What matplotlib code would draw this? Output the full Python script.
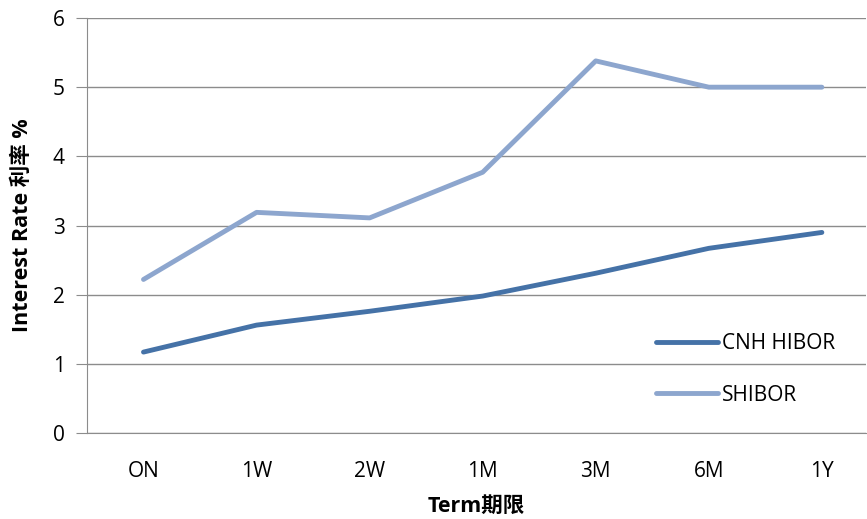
import matplotlib
matplotlib.use('Agg')
import matplotlib.pyplot as plt
import numpy as np

terms = ['ON', '1W', '2W', '1M', '3M', '6M', '1Y']
cnh_hibor = [1.17, 1.56, 1.76, 1.98, 2.31, 2.67, 2.90]
shibor = [2.22, 3.19, 3.11, 3.77, 5.38, 5.0, 5.0]

plt.rcParams['font.family'] = ['Open Sans', 'Noto Sans CJK SC', 'DejaVu Sans']

fig = plt.figure(figsize=(8.67, 5.19), dpi=100)
ax = fig.add_axes([0.1003, 0.1657, 0.8985, 0.7996])

x = np.arange(len(terms))
ax.plot(x, cnh_hibor, color='#4572A7', lw=3.5, label='CNH HIBOR', solid_capstyle='round')
ax.plot(x, shibor, color='#8DA6CE', lw=3.5, label='SHIBOR', solid_capstyle='round')

ax.set_xlim(-0.5, 6.39)
ax.set_ylim(0, 6)
ax.set_yticks(range(7))
ax.set_xticks(x)
ax.set_xticklabels(terms)
ax.yaxis.grid(True, color='#8c8c8c', lw=1)
ax.set_axisbelow(True)

for s in ['top', 'right']:
    ax.spines[s].set_visible(False)
for s in ['left', 'bottom']:
    ax.spines[s].set_color('#8c8c8c')
ax.tick_params(axis='y', length=8, color='#8c8c8c', labelsize=15, pad=8)
ax.tick_params(axis='x', length=0, labelsize=15, pad=20)

ax.set_xlabel('Term期限', fontsize=15.5, fontweight='bold', labelpad=10)
ax.set_ylabel('Interest Rate 利率 %', fontsize=15.5, fontweight='bold', labelpad=14)

ax.legend(loc='upper left', bbox_to_anchor=(0.706, 0.285), frameon=False, fontsize=15,
          handlelength=3.0, handletextpad=0.2, labelspacing=1.45)

fig.savefig('out.png', dpi=100)
